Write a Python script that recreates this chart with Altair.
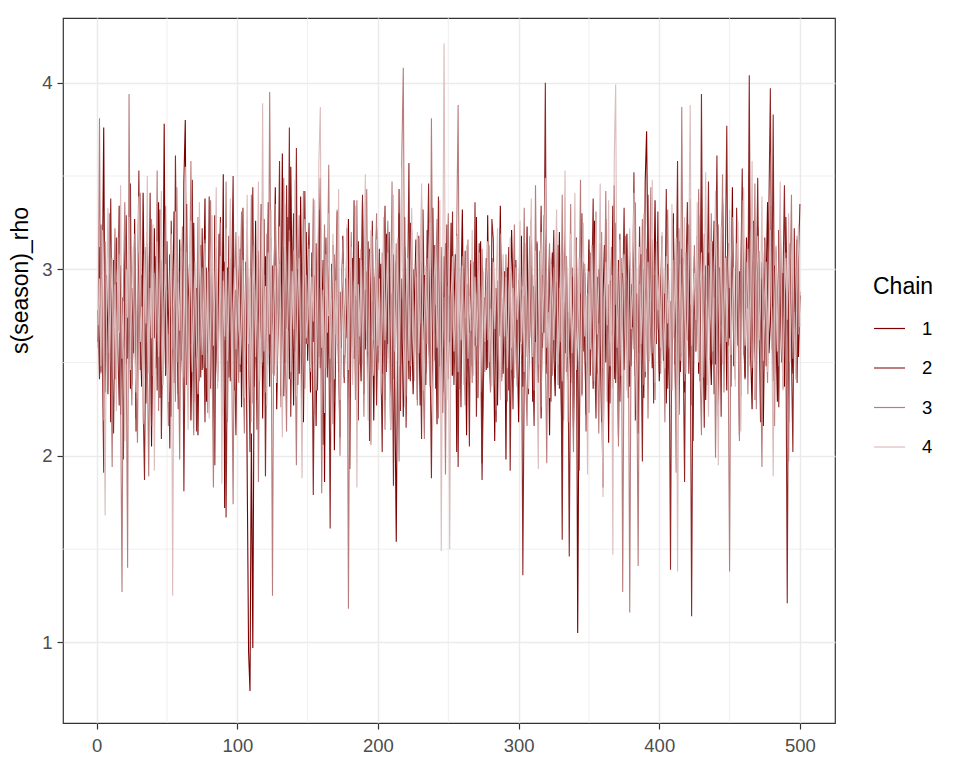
import altair as alt
import pandas as pd

# ---- data: 4 chains x 500 iterations of s(season)_rho (read/estimated from the trace plot) ----
chain_1 = [
    2.61, 3.12, 2.45, 2.88, 3.76, 2.34, 2.97, 2.52, 3.21, 2.18, 2.76, 3.05, 2.41, 2.93, 2.67, 3.34, 2.22, 2.85, 2.58, 3.18, 2.49, 2.71, 3.02, 2.36, 2.90,
    2.55, 3.27, 2.13, 2.80, 3.09, 2.64, 2.37, 3.41, 2.74, 2.28, 3.15, 2.59, 2.96, 2.05, 2.83, 3.22, 2.47, 2.69, 3.36, 2.31, 2.92, 2.56, 3.78, 2.43, 2.87,
    2.65, 3.08, 2.21, 2.79, 3.31, 2.50, 2.99, 2.33, 3.16, 2.72, 2.44, 3.47, 3.80, 2.38, 2.81, 3.03, 2.19, 2.68, 3.25, 2.53, 2.90, 2.11, 2.77, 3.13, 2.46,
    2.84, 3.38, 2.29, 2.73, 3.06, 2.57, 2.98, 2.15, 3.29, 2.63, 2.40, 3.19, 2.86, 2.52, 3.51, 1.72, 2.78, 3.01, 2.42, 2.95, 2.60, 3.23, 2.35, 2.89, 2.70,
    2.48, 3.11, 2.26, 2.82, 2.39, 3.04, 1.92, 0.95, 0.74, 2.12, 0.97, 2.58, 3.26, 2.30, 2.91, 2.66, 3.35, 2.20, 2.75, 3.07, 2.49, 2.94, 2.37, 3.17, 2.62,
    2.87, 3.44, 2.25, 2.71, 3.10, 2.54, 3.62, 2.32, 2.96, 2.68, 3.28, 2.41, 3.55, 2.83, 2.27, 3.14, 2.59, 3.00, 2.44, 3.39, 2.76, 2.18, 2.93, 3.20, 2.51,
    2.80, 2.34, 3.09, 2.61, 2.97, 2.16, 2.85, 3.32, 2.47, 2.72, 3.05, 1.86, 2.90, 2.55, 3.24, 2.39, 2.77, 3.13, 2.03, 2.66, 3.01, 2.45, 2.88, 2.58, 3.18,
    2.42, 2.95, 2.63, 3.27, 2.31, 2.79, 3.06, 2.52, 2.86, 2.23, 3.15, 2.69, 2.40, 3.36, 2.74, 2.57, 2.99, 2.36, 3.11, 2.64, 2.83, 2.19, 2.92, 3.22, 2.50,
    2.73, 3.03, 2.44, 2.89, 2.30, 3.19, 2.60, 2.96, 2.14, 2.78, 3.08, 2.35, 1.54, 2.67, 3.30, 2.48, 2.84, 2.21, 3.12, 2.56, 2.93, 2.41, 3.25, 2.70, 2.33,
    2.87, 3.16, 2.52, 2.75, 2.27, 3.04, 2.62, 2.97, 2.38, 3.21, 2.68, 2.45, 2.90, 3.33, 2.55, 2.81, 2.17, 3.09, 2.64, 2.94, 2.34, 2.78, 3.14, 2.50, 2.86,
    2.61, 3.25, 2.43, 2.79, 3.08, 2.02, 2.71, 2.36, 2.88, 3.32, 2.57, 2.74, 2.11, 2.92, 2.66, 3.03, 2.48, 2.83, 2.59, 3.28, 2.31, 2.76, 3.15, 1.96, 2.69,
    2.85, 2.46, 3.29, 2.62, 2.38, 3.06, 2.73, 2.08, 2.90, 2.27, 2.81, 3.34, 2.58, 2.44, 2.94, 1.98, 3.01, 2.35, 2.77, 3.21, 2.89, 2.42, 3.05, 2.64, 2.18,
    2.79, 3.18, 2.37, 2.86, 2.53, 3.23, 2.45, 2.70, 3.02, 2.29, 2.91, 2.61, 3.14, 2.40, 2.84, 2.20, 2.97, 2.66, 3.27, 2.49, 2.75, 2.11, 2.88, 3.09, 2.57,
    2.32, 2.93, 2.68, 3.20, 2.43, 2.01, 2.82, 2.55, 3.07, 2.26, 2.74, 2.39, 2.96, 2.15, 2.63, 3.11, 1.05, 2.47, 2.87, 2.33, 3.04, 2.59, 2.22, 2.78, 3.16,
    2.52, 2.90, 2.36, 3.26, 2.71, 2.44, 3.00, 2.62, 2.18, 2.85, 3.13, 2.50, 2.77, 2.07, 2.94, 2.65, 3.34, 2.41, 2.81, 2.56, 3.05, 2.29, 2.73, 2.98, 2.46,
    2.83, 3.19, 2.54, 2.37, 2.92, 2.69, 3.28, 2.43, 2.76, 2.12, 2.88, 3.08, 2.60, 2.31, 3.47, 3.74, 2.95, 2.58, 3.22, 2.47, 2.80, 3.37, 2.64, 2.99, 2.40,
    2.74, 3.12, 2.51, 2.87, 2.28, 3.03, 2.66, 2.42, 2.95, 3.30, 2.58, 2.19, 2.84, 3.15, 2.45, 2.72, 3.06, 2.34, 2.91, 2.62, 3.24, 2.53, 2.79, 2.08, 2.96,
    2.67, 3.18, 2.44, 2.82, 3.41, 2.56, 2.97, 2.30, 2.75, 3.09, 2.61, 2.38, 2.93, 3.26, 2.49, 2.86, 2.21, 3.01, 2.70, 3.35, 2.57, 2.90, 2.35, 3.14, 2.63,
    2.81, 3.44, 2.48, 2.76, 3.07, 2.59, 2.99, 2.32, 3.31, 2.68, 2.42, 3.17, 2.88, 3.52, 2.54, 2.25, 3.04, 2.73, 2.46, 3.23, 2.84, 2.60, 2.95, 2.16, 2.79,
    2.92, 3.36, 2.55, 2.71, 3.13, 2.40, 3.02, 2.65, 2.29, 3.21, 2.87, 2.50, 2.98, 2.37, 3.28, 2.76, 2.18, 3.06, 2.62, 2.44, 2.93, 2.69, 3.16, 2.53, 2.86,
]

chain_2 = [
    2.78, 2.41, 3.24, 2.56, 1.91, 3.05, 2.67, 2.33, 2.94, 3.38, 2.49, 2.12, 2.86, 3.17, 2.60, 2.27, 3.02, 2.75, 1.98, 2.89, 3.29, 2.52, 2.70, 3.46, 2.38,
    2.65, 3.11, 2.20, 2.84, 3.53, 2.46, 2.97, 2.31, 1.87, 2.73, 3.20, 2.58, 3.41, 2.16, 2.91, 2.63, 3.07, 2.35, 2.80, 3.32, 2.09, 2.69, 2.97, 2.44, 3.15,
    2.57, 2.04, 3.26, 2.72, 2.39, 3.61, 2.83, 2.25, 2.99, 2.51, 3.14, 1.81, 2.77, 3.35, 2.46, 2.90, 2.60, 3.48, 2.29, 2.85, 2.13, 3.09, 2.66, 2.42, 3.22,
    2.81, 2.18, 3.01, 2.55, 3.39, 2.36, 2.93, 2.68, 1.95, 3.12, 2.47, 2.87, 3.28, 2.22, 2.74, 3.04, 1.67, 2.61, 3.18, 2.40, 2.96, 3.50, 2.53, 2.11, 2.79,
    3.07, 2.45, 2.88, 3.33, 2.26, 2.70, 3.19, 2.58, 2.02, 2.92, 3.44, 2.37, 2.76, 2.14, 3.10, 2.63, 2.99, 2.48, 3.27, 1.89, 2.85, 3.36, 2.54, 2.73, 3.02,
    2.43, 3.21, 2.64, 2.90, 3.58, 2.32, 2.79, 3.12, 2.50, 3.45, 2.67, 3.76, 2.21, 2.95, 3.30, 2.56, 3.65, 2.38, 2.87, 3.08, 2.17, 2.74, 3.42, 2.60, 2.98,
    3.25, 2.47, 2.83, 1.79, 2.69, 3.14, 2.35, 2.92, 3.49, 2.58, 2.06, 2.81, 3.17, 2.42, 2.75, 1.61, 3.03, 2.64, 2.29, 2.94, 3.31, 2.52, 2.10, 2.86, 3.09,
    2.39, 2.77, 3.22, 2.55, 1.93, 2.98, 2.66, 3.37, 2.44, 2.84, 2.19, 3.06, 2.71, 3.40, 2.33, 2.89, 2.62, 3.15, 2.08, 2.80, 3.26, 2.49, 2.96, 2.27, 2.73,
    3.11, 2.56, 2.02, 2.91, 3.34, 2.45, 2.78, 3.20, 2.37, 2.87, 1.84, 2.68, 3.04, 2.51, 3.43, 2.24, 2.95, 2.61, 3.28, 2.15, 2.82, 3.57, 2.40, 2.74, 3.00,
    2.53, 2.89, 2.30, 3.18, 2.65, 2.09, 3.32, 2.76, 2.44, 2.97, 3.46, 2.58, 1.88, 2.84, 3.13, 2.36, 2.71, 3.39, 2.48, 2.92, 2.23, 3.07, 2.63, 3.24, 2.41,
    2.86, 2.57, 3.31, 2.38, 2.74, 3.19, 1.94, 2.83, 2.26, 2.96, 2.62, 3.10, 2.44, 2.79, 2.05, 3.05, 2.68, 2.51, 3.36, 2.21, 2.77, 3.14, 2.59, 1.87, 2.40,
    2.72, 3.06, 2.47, 2.90, 2.35, 3.27, 3.16, 2.54, 2.18, 2.87, 2.64, 3.22, 2.42, 2.76, 2.99, 2.30, 2.85, 3.12, 1.92, 2.69, 2.25, 3.03, 2.80, 2.46, 2.94,
    2.61, 2.89, 1.36, 2.47, 3.08, 2.70, 2.33, 2.95, 3.27, 2.52, 2.16, 2.84, 3.15, 2.39, 2.78, 3.34, 2.58, 2.91, 4.00, 2.44, 2.73, 3.06, 2.29, 2.87, 3.21,
    2.50, 2.82, 3.13, 2.36, 2.69, 1.55, 2.93, 3.24, 2.45, 2.77, 1.46, 2.60, 3.01, 2.27, 2.85, 3.17, 2.40, 1.92, 2.74, 3.30, 2.56, 2.98, 2.13, 2.66, 3.10,
    2.43, 2.88, 3.38, 2.59, 2.20, 2.96, 2.71, 3.14, 2.35, 1.83, 2.80, 3.27, 2.52, 2.91, 2.28, 3.05, 2.64, 3.45, 2.39, 2.75, 2.10, 3.19, 2.57, 2.86, 3.33,
    2.62, 2.94, 2.31, 3.09, 2.48, 2.79, 3.52, 2.19, 2.87, 2.55, 3.23, 2.66, 1.97, 3.00, 2.42, 2.83, 3.40, 2.51, 2.73, 3.16, 2.28, 2.97, 2.60, 3.31, 2.45,
    2.90, 3.18, 2.53, 2.77, 3.43, 2.36, 2.68, 1.39, 2.95, 3.25, 2.49, 2.84, 3.58, 2.22, 2.72, 3.11, 2.58, 1.86, 2.99, 3.36, 2.44, 2.81, 1.14, 2.63, 3.07,
    2.56, 2.93, 3.29, 2.40, 3.94, 2.67, 2.15, 3.02, 2.84, 3.47, 2.51, 2.76, 3.15, 2.33, 2.97, 3.61, 2.46, 2.88, 2.21, 3.38, 2.70, 3.08, 3.77, 2.59, 2.90,
    2.37, 3.20, 2.74, 2.52, 3.33, 2.86, 2.11, 2.98, 3.54, 2.63, 2.41, 3.12, 2.79, 4.04, 2.55, 2.92, 3.26, 2.30, 2.83, 3.49, 2.66, 2.18, 3.04, 2.73, 3.17,
    2.48, 2.91, 3.36, 3.97, 2.62, 3.83, 2.44, 3.10, 2.77, 2.26, 3.28, 2.58, 2.95, 3.45, 2.71, 1.21, 2.87, 3.14, 2.53, 2.02, 3.22, 2.68, 2.39, 3.05, 3.35,
]

chain_3 = [
    2.58, 3.81, 2.44, 2.97, 2.19, 3.15, 2.72, 2.36, 3.30, 2.61, 1.94, 2.85, 3.22, 2.49, 2.76, 3.08, 2.33, 1.27, 2.90, 3.36, 2.55, 1.40, 3.94, 2.68, 2.27,
    2.82, 3.19, 2.46, 2.07, 2.94, 3.41, 2.60, 2.31, 2.88, 3.12, 2.52, 1.89, 2.79, 3.27, 2.43, 2.98, 2.65, 3.53, 2.24, 2.86, 3.05, 2.38, 2.71, 3.34, 2.50,
    2.16, 2.93, 3.17, 2.57, 2.80, 2.29, 3.44, 2.67, 1.98, 2.90, 3.23, 2.42, 2.75, 3.09, 2.35, 2.84, 3.58, 2.53, 2.11, 2.96, 2.63, 3.28, 2.40, 2.78, 3.01,
    2.47, 3.16, 2.70, 2.23, 2.92, 3.37, 2.56, 1.83, 2.87, 3.11, 2.44, 2.74, 3.25, 2.31, 2.99, 2.62, 3.47, 2.18, 2.83, 3.06, 2.51, 1.74, 2.91, 3.20, 2.66,
    2.39, 2.95, 3.31, 2.54, 2.12, 2.86, 3.14, 2.45, 2.77, 3.40, 2.28, 2.89, 2.64, 3.07, 1.86, 2.73, 3.26, 2.50, 2.97, 2.34, 3.19, 2.61, 3.95, 2.82, 1.25,
    2.92, 3.35, 2.48, 2.71, 3.03, 2.26, 2.85, 3.49, 2.57, 2.13, 2.94, 3.21, 2.41, 2.78, 3.10, 2.63, 1.95, 2.88, 3.29, 2.52, 2.74, 3.42, 2.36, 2.97, 2.60,
    3.13, 2.45, 2.81, 3.38, 2.22, 2.69, 3.02, 2.53, 2.90, 1.80, 2.76, 3.24, 2.47, 2.95, 3.56, 2.39, 2.84, 2.17, 3.08, 2.65, 3.32, 2.55, 2.00, 2.87, 3.16,
    2.42, 2.79, 3.05, 1.18, 2.73, 3.20, 2.58, 2.94, 2.30, 3.37, 2.67, 2.49, 3.11, 2.84, 2.21, 2.98, 3.43, 2.56, 2.75, 2.06, 3.18, 2.62, 2.91, 3.30, 2.46,
    2.80, 2.35, 3.09, 2.70, 2.14, 2.93, 3.26, 2.52, 2.86, 3.47, 2.41, 2.77, 3.14, 2.59, 1.97, 2.92, 3.63, 4.08, 2.66, 2.32, 3.04, 2.78, 2.48, 3.21, 2.83,
    2.55, 2.96, 2.27, 3.17, 2.71, 3.39, 2.44, 2.09, 2.89, 3.06, 2.62, 2.37, 3.81, 2.80, 2.51, 2.98, 3.27, 2.20, 2.74, 3.12, 2.58, 2.85, 1.90, 2.95, 3.30,
    2.66, 2.43, 3.00, 2.78, 2.52, 3.22, 3.88, 2.36, 2.81, 3.07, 2.59, 2.27, 2.92, 3.16, 2.48, 2.73, 2.39, 3.04, 2.64, 2.87, 2.31, 2.98, 2.55, 3.11, 2.70,
    2.45, 2.89, 2.62, 3.13, 2.34, 2.77, 3.02, 2.51, 2.24, 2.94, 2.68, 3.19, 2.40, 2.85, 2.57, 3.08, 2.29, 2.74, 2.96, 2.46, 2.83, 3.24, 2.60, 2.37, 2.91,
    3.05, 2.54, 2.79, 3.33, 2.41, 2.16, 2.88, 3.18, 2.63, 2.97, 2.35, 3.45, 2.72, 2.49, 3.10, 2.26, 2.84, 3.29, 2.56, 1.96, 2.93, 3.14, 2.67, 2.43, 3.01,
    2.76, 3.22, 2.38, 2.90, 2.61, 3.40, 2.19, 2.85, 3.07, 2.53, 2.70, 3.35, 2.44, 2.02, 2.95, 3.16, 2.58, 2.81, 3.48, 2.32, 2.74, 3.03, 2.50, 2.87, 2.23,
    3.09, 2.66, 2.40, 2.97, 3.31, 2.55, 2.12, 2.83, 3.20, 2.47, 2.78, 3.42, 2.29, 2.92, 2.61, 3.12, 2.36, 2.88, 3.25, 2.52, 2.05, 2.75, 3.06, 1.27, 2.69,
    3.18, 2.43, 2.84, 1.16, 2.73, 3.01, 2.57, 3.36, 2.49, 1.41, 2.92, 2.64, 3.27, 2.38, 2.81, 3.11, 2.20, 2.96, 3.44, 2.55, 2.77, 2.30, 3.08, 2.68, 2.90,
    2.44, 3.15, 2.71, 2.18, 2.99, 3.32, 2.58, 2.83, 2.35, 3.05, 2.66, 1.91, 2.87, 3.22, 2.51, 3.87, 2.74, 2.40, 3.09, 2.62, 2.95, 3.38, 2.27, 2.80, 3.13,
    2.56, 2.89, 3.43, 2.45, 2.11, 2.93, 3.19, 2.67, 2.38, 3.02, 2.76, 3.30, 2.49, 2.85, 1.99, 2.72, 3.24, 2.60, 2.91, 3.51, 2.34, 2.82, 3.07, 2.53, 1.38,
    2.97, 3.28, 2.62, 2.41, 3.14, 2.75, 2.08, 2.90, 3.37, 2.54, 2.79, 3.04, 2.33, 2.86, 3.21, 2.47, 2.68, 3.46, 2.25, 2.94, 3.10, 2.58, 1.94, 2.83, 3.16,
    2.69, 2.39, 3.01, 3.34, 2.57, 2.80, 2.16, 3.12, 2.74, 2.48, 3.25, 2.91, 2.36, 2.85, 3.09, 2.63, 1.97, 2.96, 3.40, 2.52, 2.77, 2.44, 3.18, 2.65, 2.88,
]

chain_4 = [
    2.70, 2.95, 2.48, 3.21, 2.63, 1.68, 2.87, 3.33, 2.55, 2.79, 3.06, 2.41, 2.92, 2.24, 3.17, 2.66, 3.45, 2.52, 2.83, 2.08, 3.00, 2.74, 3.28, 2.46, 2.89,
    3.12, 2.57, 2.34, 2.98, 3.39, 2.61, 2.80, 2.17, 3.08, 2.71, 3.50, 2.44, 2.90, 2.63, 3.24, 1.92, 2.77, 3.15, 2.53, 2.96, 3.42, 2.38, 2.84, 3.03, 2.60,
    2.29, 2.86, 3.19, 1.25, 2.75, 3.31, 2.50, 2.93, 2.67, 3.10, 2.37, 2.82, 3.55, 2.58, 2.14, 2.97, 3.26, 2.45, 2.78, 3.04, 2.62, 2.33, 3.36, 2.91, 2.54,
    2.81, 3.14, 2.47, 2.99, 2.20, 2.73, 3.29, 2.59, 2.88, 3.44, 2.36, 2.69, 3.07, 1.85, 2.94, 2.64, 3.22, 2.51, 2.83, 3.38, 2.42, 2.76, 3.01, 2.57, 2.90,
    3.18, 2.49, 2.74, 3.05, 2.31, 2.85, 3.40, 2.60, 2.96, 2.18, 2.79, 3.13, 2.53, 2.88, 3.47, 2.40, 2.69, 3.89, 2.56, 2.91, 2.27, 3.09, 2.65, 3.32, 2.44,
    2.82, 3.02, 2.39, 2.93, 3.23, 2.61, 2.10, 2.86, 3.35, 2.50, 2.77, 3.15, 2.45, 2.99, 2.68, 3.48, 2.32, 2.84, 3.06, 2.55, 1.88, 2.90, 3.27, 2.63, 2.74,
    3.11, 2.47, 2.96, 2.72, 3.37, 2.35, 2.81, 3.58, 3.87, 2.58, 2.89, 2.23, 3.08, 2.66, 3.30, 2.52, 2.78, 3.19, 2.41, 2.94, 2.60, 3.43, 2.30, 2.87, 3.03,
    2.54, 2.80, 3.24, 2.46, 2.97, 3.12, 2.38, 2.73, 3.34, 1.83, 2.92, 2.64, 3.05, 2.49, 2.85, 3.51, 2.57, 2.19, 2.98, 3.21, 2.67, 2.43, 2.88, 3.16, 2.59,
    2.95, 2.33, 2.76, 3.28, 2.62, 2.87, 3.09, 2.44, 2.14, 2.93, 3.40, 2.56, 2.79, 3.17, 2.48, 2.97, 3.55, 2.61, 2.26, 2.84, 3.06, 2.51, 2.90, 3.33, 2.67,
    2.40, 2.98, 3.20, 2.55, 2.81, 3.46, 2.35, 2.72, 3.02, 2.60, 2.89, 3.25, 2.47, 2.16, 2.94, 3.13, 2.58, 2.79, 3.37, 1.49, 2.86, 4.21, 2.63, 2.30, 2.91,
    1.50, 2.84, 3.07, 2.56, 2.71, 3.18, 2.45, 2.93, 2.62, 3.02, 2.38, 2.77, 3.13, 2.52, 2.86, 2.67, 3.21, 2.43, 2.96, 2.59, 2.80, 3.09, 2.34, 2.74, 2.99,
    2.61, 2.88, 3.15, 2.50, 2.79, 2.37, 3.04, 2.68, 2.92, 3.22, 2.55, 2.30, 2.85, 3.08, 2.64, 2.96, 2.47, 2.78, 3.17, 2.58, 2.90, 2.42, 3.01, 2.73, 2.84,
    3.26, 2.60, 2.91, 2.45, 3.14, 2.70, 2.36, 2.97, 3.38, 2.53, 2.82, 3.10, 2.44, 1.93, 2.88, 3.20, 2.66, 2.95, 3.49, 2.58, 2.77, 2.31, 3.03, 2.85, 2.62,
    2.93, 3.32, 2.49, 2.75, 3.08, 2.40, 2.87, 3.53, 2.61, 2.18, 2.96, 3.19, 2.55, 2.80, 3.41, 2.46, 2.71, 3.06, 2.28, 2.92, 3.25, 2.64, 2.86, 1.90, 2.99,
    2.57, 3.13, 2.78, 2.39, 3.28, 2.65, 2.93, 3.46, 2.52, 1.78, 2.84, 3.04, 2.70, 3.37, 2.48, 2.97, 1.47, 3.60, 3.99, 2.58, 2.81, 3.16, 2.43, 2.90, 3.08,
    2.62, 2.35, 2.95, 3.22, 2.68, 2.87, 3.41, 2.54, 2.18, 2.99, 3.12, 2.60, 2.83, 3.30, 2.45, 2.76, 3.04, 2.51, 2.92, 3.48, 2.66, 2.39, 3.15, 2.78, 2.97,
    2.58, 3.20, 2.83, 2.47, 3.07, 2.71, 2.94, 2.32, 3.35, 2.63, 2.88, 3.17, 1.38, 2.76, 3.03, 2.55, 2.91, 3.28, 2.44, 2.67, 3.12, 3.88, 2.59, 2.85, 2.98,
    2.73, 3.36, 2.50, 2.89, 3.09, 2.42, 2.97, 3.52, 2.64, 2.21, 2.80, 3.15, 2.56, 2.93, 3.42, 2.68, 1.95, 2.86, 3.23, 2.49, 2.75, 3.06, 2.61, 2.95, 3.32,
    2.54, 2.82, 3.01, 2.37, 2.90, 3.26, 2.66, 2.13, 2.98, 3.44, 2.59, 2.78, 3.11, 2.48, 2.87, 3.58, 2.70, 2.30, 2.94, 3.18, 2.62, 2.85, 3.39, 2.51, 2.76,
    3.04, 2.45, 2.92, 3.21, 2.67, 1.89, 2.83, 3.13, 2.56, 2.97, 3.47, 2.60, 2.35, 2.88, 3.06, 2.73, 3.30, 2.50, 2.93, 3.16, 2.64, 2.41, 2.99, 3.24, 2.69,
]

chains = ["1", "2", "3", "4"]
chain_colors = ["#7C0000", "#8F2727", "#B97C7C", "#DCBCBC"]
x_ticks = [0, 100, 200, 300, 400, 500]
x_minor = [50, 150, 250, 350, 450]
y_ticks = [1, 2, 3, 4]
y_minor = [1.5, 2.5, 3.5]

rows = []
for ch, vals in zip(chains, [chain_1, chain_2, chain_3, chain_4]):
    for i, v in enumerate(vals, start=1):
        rows.append({"iteration": i, "value": v, "Chain": ch})
df = pd.DataFrame(rows)

FONT = "Liberation Sans"
x_scale = alt.Scale(domain=[-23.95, 524.95], nice=False, zero=False)
y_scale = alt.Scale(domain=[0.568, 4.347], nice=False, zero=False)

x_axis = alt.Axis(
    values=x_ticks, title=None, grid=True, gridColor="#EBEBEB", gridWidth=1.5,
    domain=False, tickColor="#333333", tickWidth=1.2, tickSize=6,
    labelColor="#4D4D4D", labelFontSize=18.5, labelFont=FONT, labelPadding=7,
    labelFlush=False,
)
y_axis = alt.Axis(
    values=y_ticks, title="s(season)_rho", grid=True, gridColor="#EBEBEB", gridWidth=1.5,
    domain=False, tickColor="#333333", tickWidth=1.2, tickSize=6,
    labelColor="#4D4D4D", labelFontSize=18.5, labelFont=FONT, labelPadding=5,
    titleFont=FONT, titleFontSize=23, titleFontWeight="normal", titleColor="black",
    titlePadding=9, titleY=262, labelFlush=False,
)

minor_x = alt.Chart(pd.DataFrame({"iteration": x_minor})).mark_rule(
    color="#EBEBEB", strokeWidth=0.8
).encode(x=alt.X("iteration:Q", scale=x_scale, axis=x_axis))

minor_y = alt.Chart(pd.DataFrame({"value": y_minor})).mark_rule(
    color="#EBEBEB", strokeWidth=0.8
).encode(y=alt.Y("value:Q", scale=y_scale, axis=y_axis))

lines = alt.Chart(df).mark_line(strokeWidth=1.1, clip=True).encode(
    x=alt.X("iteration:Q", scale=x_scale, axis=x_axis),
    y=alt.Y("value:Q", scale=y_scale, axis=y_axis),
    color=alt.Color(
        "Chain:N",
        scale=alt.Scale(domain=chains, range=chain_colors),
        legend=alt.Legend(
            title="Chain", orient="none", legendX=810, legendY=258,
            symbolType="stroke", symbolSize=961, symbolStrokeWidth=1.2,
            labelFont=FONT, labelFontSize=18.5, labelColor="black", labelOffset=16,
            titleFont=FONT, titleFontSize=23, titleFontWeight="normal", titleColor="black",
            titlePadding=13, rowPadding=13.5, padding=0,
        ),
    ),
    order=alt.Order("iteration:Q"),
)

chart = alt.layer(minor_x, minor_y, lines).properties(
    width=772,
    height=705,
    autosize=alt.AutoSizeParams(type="none"),
    padding={"left": 55, "top": 10, "right": 110, "bottom": 40},
    background="white",
).configure_view(stroke="#333333", strokeWidth=1.2)

chart.save("out.html", embed_options={"renderer": "svg", "actions": False})
